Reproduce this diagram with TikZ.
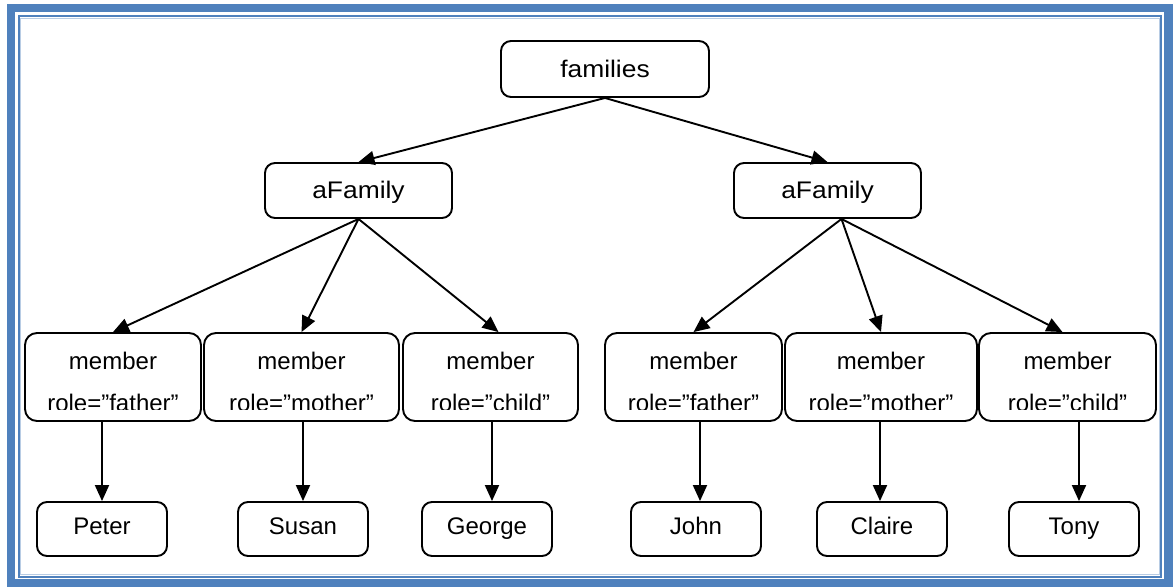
\documentclass[tikz,border=0pt]{standalone}
\usepackage{fontspec}
\setmainfont{Liberation Sans}
\newfontfamily\widefont[FakeStretch=1.1]{Liberation Sans}
\usetikzlibrary{arrows.meta}
\definecolor{frameblue}{HTML}{4F81BD}
\definecolor{framelight}{HTML}{B8CCE4}
\begin{document}
\begin{tikzpicture}[x=1pt,y=-1pt,
  box/.style={draw, line width=1.9pt, rounded corners=10pt, inner sep=0pt,
    font=\fontsize{24}{28}\selectfont},
  headbox/.style={box, font=\widefont\fontsize{24}{28}\selectfont,
    text height=16.4pt, text depth=0pt},
  leafbox/.style={box, minimum width=130pt, minimum height=54pt,
    text height=11pt, text depth=0pt},
  memberbox/.style={box, rounded corners=12pt, minimum height=88pt},
  memtext/.style={anchor=base, inner sep=0pt, font=\fontsize{24}{28}\selectfont},
  link/.style={line width=1.9pt, -{Triangle[length=16pt,width=14pt]}}
]
% page and double frame
\fill[white] (0,0) rectangle (1173,585);
\draw[frameblue, line width=8.5pt] (11,8) rectangle (1168.5,583);
\draw[frameblue, line width=2pt] (18.5,16) rectangle (1161,576.5);
\draw[framelight, line width=1pt] (20.5,18.3) rectangle (1159,574.5);
\useasboundingbox (0,0) rectangle (1173,585);

% root and family nodes
\node[headbox, minimum width=208pt, minimum height=56pt] (families) at (605,69) {families};
\node[headbox, minimum width=187pt, minimum height=55pt] (famL) at (358.5,190.5) {aFamily};
\node[headbox, minimum width=187pt, minimum height=55pt] (famR) at (827.5,190.5) {aFamily};

% member nodes, second line cut at the box's text area
\foreach \n/\x/\w/\r in {m1/113/176/father, m2/301.5/195/mother, m3/490.5/175/child,
                         m4/693.5/177/father, m5/881/192/mother, m6/1067.5/177/child}{
  \node[memberbox, minimum width=\w pt] (\n) at (\x,377) {};
  \node[memtext] (\n-a) at (\x,369) {member};
  \begin{scope}
    \clip (\x-100,330) rectangle (\x+100,409.5);
    \node[memtext] (\n-b) at (\x,411) {role=”\r”};
  \end{scope}
}

% person nodes
\node[leafbox] (peter)  at (102,529)  {Peter};
\node[leafbox] (susan)  at (303,529)  {Susan};
\node[leafbox] (george) at (487,529)  {George};
\node[leafbox] (john)   at (696,529)  {John};
\node[leafbox] (claire) at (882,529)  {Claire};
\node[leafbox] (tony)   at (1074,529) {Tony};

% connectors
\draw[link] (families.south) -- (famL.north);
\draw[link] (families.south) -- (famR.north);
\draw[link] (famL.south) -- (m1.north);
\draw[link] (famL.south) -- (m2.north);
\draw[link] (famL.south) -- ([xshift=8pt]m3.north);
\draw[link] ([xshift=14pt]famR.south) -- (m4.north);
\draw[link] ([xshift=14pt]famR.south) -- (m5.north);
\draw[link] ([xshift=14pt]famR.south) -- ([xshift=-5pt]m6.north);

\draw[link] (peter.north |- m1.south) -- (peter.north);
\draw[link] (susan.north |- m2.south) -- (susan.north);
\draw[link] ([xshift=5pt]george.north |- m3.south) -- ([xshift=5pt]george.north);
\draw[link] ([xshift=4pt]john.north |- m4.south) -- ([xshift=4pt]john.north);
\draw[link] ([xshift=-2pt]claire.north |- m5.south) -- ([xshift=-2pt]claire.north);
\draw[link] ([xshift=5pt]tony.north |- m6.south) -- ([xshift=5pt]tony.north);
\end{tikzpicture}
\end{document}
